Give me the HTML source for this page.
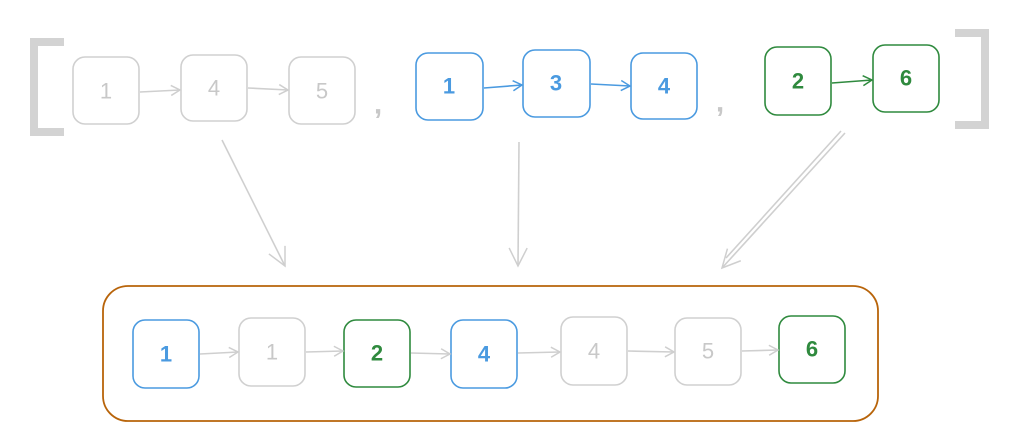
<!DOCTYPE html>
<html><head><meta charset="utf-8"><style>
html,body{margin:0;padding:0;background:#fff;}
svg{display:block;}
text{font-family:"Liberation Sans",sans-serif;font-size:22px;text-anchor:middle;dominant-baseline:central;}
</style></head><body>
<svg width="1018" height="431" viewBox="0 0 1018 431" xmlns="http://www.w3.org/2000/svg">
<defs>
<marker id="ag" markerWidth="12" markerHeight="12" refX="10" refY="6" orient="auto" markerUnits="userSpaceOnUse"><path d="M1,1 L10,6 L1,11" fill="none" stroke="#cfcfcf" stroke-width="1.5"/></marker>
<marker id="ab" markerWidth="12" markerHeight="12" refX="10" refY="6" orient="auto" markerUnits="userSpaceOnUse"><path d="M1,1 L10,6 L1,11" fill="none" stroke="#4a9ae0" stroke-width="1.5"/></marker>
<marker id="agr" markerWidth="12" markerHeight="12" refX="10" refY="6" orient="auto" markerUnits="userSpaceOnUse"><path d="M1,1 L10,6 L1,11" fill="none" stroke="#2f8a3e" stroke-width="1.5"/></marker>
<marker id="big" markerWidth="24" markerHeight="24" refX="20" refY="12" orient="auto" markerUnits="userSpaceOnUse"><path d="M2,3 L20,12 L2,21" fill="none" stroke="#cfcfcf" stroke-width="1.5"/></marker>
</defs>
<path d="M64,42 H34 V132 H64" fill="none" stroke="#d3d3d3" stroke-width="8"/>
<path d="M955,33 H985 V125 H955" fill="none" stroke="#d3d3d3" stroke-width="8"/>
<g fill="none" stroke-width="1.6">
<rect x="73" y="57" width="66" height="67" rx="12" stroke="#d0d0d0"/>
<rect x="181" y="55" width="66" height="66" rx="12" stroke="#d0d0d0"/>
<rect x="289" y="57" width="66" height="67" rx="12" stroke="#d0d0d0"/>
<rect x="416" y="53" width="67" height="67" rx="12" stroke="#4a9ae0"/>
<rect x="523" y="50" width="67" height="67" rx="12" stroke="#4a9ae0"/>
<rect x="631" y="53" width="66" height="66" rx="12" stroke="#4a9ae0"/>
<rect x="765" y="47" width="66" height="68" rx="12" stroke="#2f8a3e"/>
<rect x="873" y="45" width="66" height="67" rx="12" stroke="#2f8a3e"/>
<line x1="140" y1="92" x2="180" y2="90" stroke="#cfcfcf" marker-end="url(#ag)"/>
<line x1="248" y1="88" x2="288" y2="90" stroke="#cfcfcf" marker-end="url(#ag)"/>
<line x1="484" y1="88" x2="522" y2="85" stroke="#4a9ae0" marker-end="url(#ab)"/>
<line x1="591" y1="84" x2="630" y2="86" stroke="#4a9ae0" marker-end="url(#ab)"/>
<line x1="832" y1="83" x2="872" y2="80" stroke="#2f8a3e" marker-end="url(#agr)"/>
<line x1="222" y1="140" x2="285" y2="266" stroke="#cfcfcf" marker-end="url(#big)"/>
<line x1="519" y1="142" x2="518" y2="266" stroke="#cfcfcf" marker-end="url(#big)"/>
<line x1="845" y1="133" x2="722" y2="268" stroke="#cfcfcf" marker-end="url(#big)"/>
<line x1="841" y1="131" x2="726" y2="258" stroke="#cfcfcf"/>
<rect x="103" y="286" width="775" height="135" rx="25" stroke="#b8640a" stroke-width="1.8"/>
<rect x="133" y="320" width="66" height="68" rx="12" stroke="#4a9ae0"/>
<rect x="239" y="318" width="66" height="68" rx="12" stroke="#d0d0d0"/>
<rect x="344" y="320" width="66" height="67" rx="12" stroke="#2f8a3e"/>
<rect x="451" y="320" width="66" height="68" rx="12" stroke="#4a9ae0"/>
<rect x="561" y="317" width="66" height="68" rx="12" stroke="#d0d0d0"/>
<rect x="675" y="318" width="66" height="67" rx="12" stroke="#d0d0d0"/>
<rect x="779" y="316" width="66" height="67" rx="12" stroke="#2f8a3e"/>
<line x1="200" y1="354" x2="238" y2="352" stroke="#cfcfcf" marker-end="url(#ag)"/>
<line x1="306" y1="352" x2="343" y2="351" stroke="#cfcfcf" marker-end="url(#ag)"/>
<line x1="411" y1="353" x2="450" y2="354" stroke="#cfcfcf" marker-end="url(#ag)"/>
<line x1="518" y1="353" x2="560" y2="352" stroke="#cfcfcf" marker-end="url(#ag)"/>
<line x1="628" y1="351" x2="674" y2="352" stroke="#cfcfcf" marker-end="url(#ag)"/>
<line x1="742" y1="351" x2="778" y2="350" stroke="#cfcfcf" marker-end="url(#ag)"/>
</g>
<g fill="#c8c8c8">
<text x="106" y="91">1</text><text x="214" y="88">4</text><text x="322" y="91">5</text>
<text x="272" y="352">1</text><text x="594" y="351">4</text><text x="708" y="351">5</text>
<text x="378" y="104" style="font-size:30px;font-weight:bold">,</text><text x="720" y="102" style="font-size:30px;font-weight:bold">,</text>
</g>
<g fill="#4a9ae0" font-weight="bold">
<text x="449" y="86">1</text><text x="556" y="83">3</text><text x="664" y="86">4</text>
<text x="166" y="354">1</text><text x="484" y="354">4</text>
</g>
<g fill="#2f8a3e" font-weight="bold">
<text x="798" y="81">2</text><text x="906" y="78">6</text>
<text x="377" y="353">2</text><text x="812" y="349">6</text>
</g>
</svg>
</body></html>
